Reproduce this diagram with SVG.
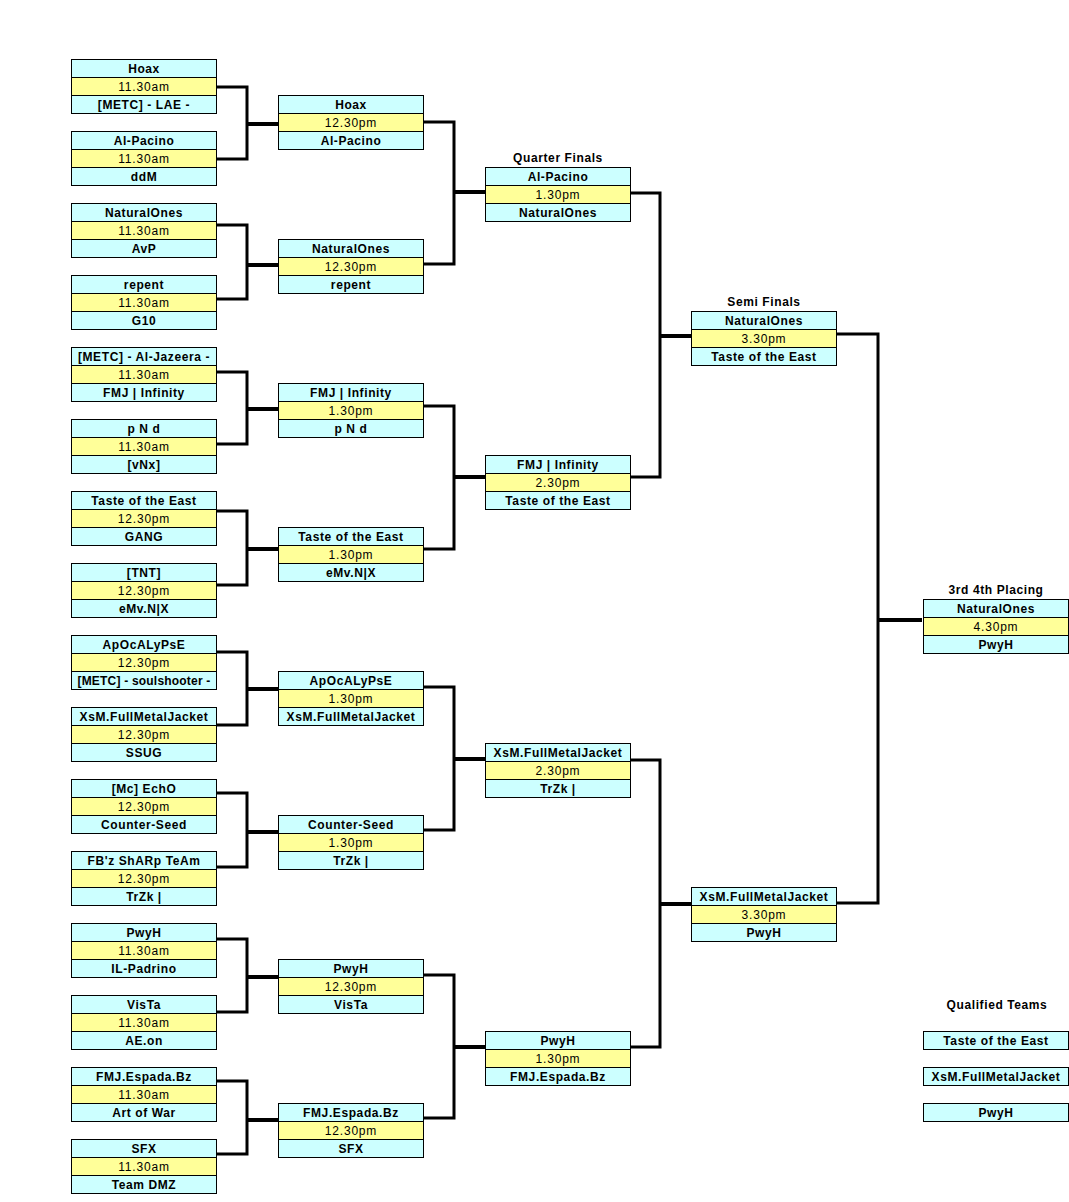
<svg xmlns="http://www.w3.org/2000/svg" width="1069" height="1202" viewBox="0 0 1069 1202">
<style>
.c{fill:#CCFFFF;stroke:#000;stroke-width:1}
.y{fill:#FFFF99;stroke:#000;stroke-width:1}
text{font-family:"Liberation Sans",Arial,sans-serif;font-size:12px;text-anchor:middle;fill:#000;letter-spacing:0.8px}
.b{font-weight:bold;letter-spacing:0.6px}
.h{font-weight:bold;font-size:12px;letter-spacing:0.6px}
.ln{fill:none;stroke:#000;stroke-width:3;stroke-linejoin:miter}
.jn{fill:none;stroke:#000;stroke-width:4}
</style>
<defs>
<g id="box">
<rect class="c" x="0.5" y="0.5" width="145" height="18"/>
<rect class="y" x="0.5" y="18.5" width="145" height="18"/>
<rect class="c" x="0.5" y="36.5" width="145" height="18"/>
</g>
</defs>
<rect x="0" y="0" width="1069" height="1202" fill="#fff"/>
<g id="connectors">
<path class="ln" d="M217 87H247V159H217"/><path class="jn" d="M247 124H278"/>
<path class="ln" d="M217 225H247V299H217"/><path class="jn" d="M247 265H278"/>
<path class="ln" d="M217 372H247V444H217"/><path class="jn" d="M247 409H278"/>
<path class="ln" d="M217 511H247V585H217"/><path class="jn" d="M247 549H278"/>
<path class="ln" d="M217 652H247V725H217"/><path class="jn" d="M247 689H278"/>
<path class="ln" d="M217 793H247V867H217"/><path class="jn" d="M247 832H278"/>
<path class="ln" d="M217 939H247V1012H217"/><path class="jn" d="M247 977H278"/>
<path class="ln" d="M217 1081H247V1154H217"/><path class="jn" d="M247 1120H278"/>
<path class="ln" d="M424 122H454V264H424"/><path class="jn" d="M454 192H485"/>
<path class="ln" d="M424 406H454V549H424"/><path class="jn" d="M454 477H485"/>
<path class="ln" d="M424 687H454V830H424"/><path class="jn" d="M454 759H485"/>
<path class="ln" d="M424 975H454V1118H424"/><path class="jn" d="M454 1047H485"/>
<path class="ln" d="M631 193H660V477H631"/><path class="jn" d="M660 336H691"/>
<path class="ln" d="M631 760H660V1047H631"/><path class="jn" d="M660 904H691"/>
<path class="ln" d="M837 334H878V903H837"/><path class="jn" d="M878 620H922"/>
</g>
<g id="labels">
<text class="h" x="558" y="162">Quarter Finals</text>
<text class="h" x="764" y="306">Semi Finals</text>
<text class="h" x="996" y="594">3rd 4th Placing</text>
<text class="h" x="997" y="1009">Qualified Teams</text>
</g>
<g id="r1-1" transform="translate(71,59)"><use href="#box"/><text class="b" x="73" y="14">Hoax</text><text x="73" y="32">11.30am</text><text class="b" x="73" y="50">[METC] - LAE -</text></g>
<g id="r1-2" transform="translate(71,131)"><use href="#box"/><text class="b" x="73" y="14">Al-Pacino</text><text x="73" y="32">11.30am</text><text class="b" x="73" y="50">ddM</text></g>
<g id="r1-3" transform="translate(71,203)"><use href="#box"/><text class="b" x="73" y="14">NaturalOnes</text><text x="73" y="32">11.30am</text><text class="b" x="73" y="50">AvP</text></g>
<g id="r1-4" transform="translate(71,275)"><use href="#box"/><text class="b" x="73" y="14">repent</text><text x="73" y="32">11.30am</text><text class="b" x="73" y="50">G10</text></g>
<g id="r1-5" transform="translate(71,347)"><use href="#box"/><text class="b" x="73" y="14">[METC] - Al-Jazeera -</text><text x="73" y="32">11.30am</text><text class="b" x="73" y="50">FMJ | Infinity</text></g>
<g id="r1-6" transform="translate(71,419)"><use href="#box"/><text class="b" x="73" y="14">p N d</text><text x="73" y="32">11.30am</text><text class="b" x="73" y="50">[vNx]</text></g>
<g id="r1-7" transform="translate(71,491)"><use href="#box"/><text class="b" x="73" y="14">Taste of the East</text><text x="73" y="32">12.30pm</text><text class="b" x="73" y="50">GANG</text></g>
<g id="r1-8" transform="translate(71,563)"><use href="#box"/><text class="b" x="73" y="14">[TNT]</text><text x="73" y="32">12.30pm</text><text class="b" x="73" y="50">eMv.N|X</text></g>
<g id="r1-9" transform="translate(71,635)"><use href="#box"/><text class="b" x="73" y="14">ApOcALyPsE</text><text x="73" y="32">12.30pm</text><text class="b" x="73" y="50" style="letter-spacing:0.2px">[METC] - soulshooter -</text></g>
<g id="r1-10" transform="translate(71,707)"><use href="#box"/><text class="b" x="73" y="14">XsM.FullMetalJacket</text><text x="73" y="32">12.30pm</text><text class="b" x="73" y="50">SSUG</text></g>
<g id="r1-11" transform="translate(71,779)"><use href="#box"/><text class="b" x="73" y="14">[Mc] EchO</text><text x="73" y="32">12.30pm</text><text class="b" x="73" y="50">Counter-Seed</text></g>
<g id="r1-12" transform="translate(71,851)"><use href="#box"/><text class="b" x="73" y="14">FB'z ShARp TeAm</text><text x="73" y="32">12.30pm</text><text class="b" x="73" y="50">TrZk |</text></g>
<g id="r1-13" transform="translate(71,923)"><use href="#box"/><text class="b" x="73" y="14">PwyH</text><text x="73" y="32">11.30am</text><text class="b" x="73" y="50">IL-Padrino</text></g>
<g id="r1-14" transform="translate(71,995)"><use href="#box"/><text class="b" x="73" y="14">VisTa</text><text x="73" y="32">11.30am</text><text class="b" x="73" y="50">AE.on</text></g>
<g id="r1-15" transform="translate(71,1067)"><use href="#box"/><text class="b" x="73" y="14">FMJ.Espada.Bz</text><text x="73" y="32">11.30am</text><text class="b" x="73" y="50">Art of War</text></g>
<g id="r1-16" transform="translate(71,1139)"><use href="#box"/><text class="b" x="73" y="14">SFX</text><text x="73" y="32">11.30am</text><text class="b" x="73" y="50">Team DMZ</text></g>
<g id="r2-1" transform="translate(278,95)"><use href="#box"/><text class="b" x="73" y="14">Hoax</text><text x="73" y="32">12.30pm</text><text class="b" x="73" y="50">Al-Pacino</text></g>
<g id="r2-2" transform="translate(278,239)"><use href="#box"/><text class="b" x="73" y="14">NaturalOnes</text><text x="73" y="32">12.30pm</text><text class="b" x="73" y="50">repent</text></g>
<g id="r2-3" transform="translate(278,383)"><use href="#box"/><text class="b" x="73" y="14">FMJ | Infinity</text><text x="73" y="32">1.30pm</text><text class="b" x="73" y="50">p N d</text></g>
<g id="r2-4" transform="translate(278,527)"><use href="#box"/><text class="b" x="73" y="14">Taste of the East</text><text x="73" y="32">1.30pm</text><text class="b" x="73" y="50">eMv.N|X</text></g>
<g id="r2-5" transform="translate(278,671)"><use href="#box"/><text class="b" x="73" y="14">ApOcALyPsE</text><text x="73" y="32">1.30pm</text><text class="b" x="73" y="50">XsM.FullMetalJacket</text></g>
<g id="r2-6" transform="translate(278,815)"><use href="#box"/><text class="b" x="73" y="14">Counter-Seed</text><text x="73" y="32">1.30pm</text><text class="b" x="73" y="50">TrZk |</text></g>
<g id="r2-7" transform="translate(278,959)"><use href="#box"/><text class="b" x="73" y="14">PwyH</text><text x="73" y="32">12.30pm</text><text class="b" x="73" y="50">VisTa</text></g>
<g id="r2-8" transform="translate(278,1103)"><use href="#box"/><text class="b" x="73" y="14">FMJ.Espada.Bz</text><text x="73" y="32">12.30pm</text><text class="b" x="73" y="50">SFX</text></g>
<g id="qf-1" transform="translate(485,167)"><use href="#box"/><text class="b" x="73" y="14">Al-Pacino</text><text x="73" y="32">1.30pm</text><text class="b" x="73" y="50">NaturalOnes</text></g>
<g id="qf-2" transform="translate(485,455)"><use href="#box"/><text class="b" x="73" y="14">FMJ | Infinity</text><text x="73" y="32">2.30pm</text><text class="b" x="73" y="50">Taste of the East</text></g>
<g id="qf-3" transform="translate(485,743)"><use href="#box"/><text class="b" x="73" y="14">XsM.FullMetalJacket</text><text x="73" y="32">2.30pm</text><text class="b" x="73" y="50">TrZk |</text></g>
<g id="qf-4" transform="translate(485,1031)"><use href="#box"/><text class="b" x="73" y="14">PwyH</text><text x="73" y="32">1.30pm</text><text class="b" x="73" y="50">FMJ.Espada.Bz</text></g>
<g id="sf-1" transform="translate(691,311)"><use href="#box"/><text class="b" x="73" y="14">NaturalOnes</text><text x="73" y="32">3.30pm</text><text class="b" x="73" y="50">Taste of the East</text></g>
<g id="sf-2" transform="translate(691,887)"><use href="#box"/><text class="b" x="73" y="14">XsM.FullMetalJacket</text><text x="73" y="32">3.30pm</text><text class="b" x="73" y="50">PwyH</text></g>
<g id="final" transform="translate(923,599)"><use href="#box"/><text class="b" x="73" y="14">NaturalOnes</text><text x="73" y="32">4.30pm</text><text class="b" x="73" y="50">PwyH</text></g>
<g id="q-1" transform="translate(923,1031)"><rect class="c" x="0.5" y="0.5" width="145" height="18"/><text class="b" x="73" y="14">Taste of the East</text></g>
<g id="q-2" transform="translate(923,1067)"><rect class="c" x="0.5" y="0.5" width="145" height="18"/><text class="b" x="73" y="14">XsM.FullMetalJacket</text></g>
<g id="q-3" transform="translate(923,1103)"><rect class="c" x="0.5" y="0.5" width="145" height="18"/><text class="b" x="73" y="14">PwyH</text></g>
</svg>
